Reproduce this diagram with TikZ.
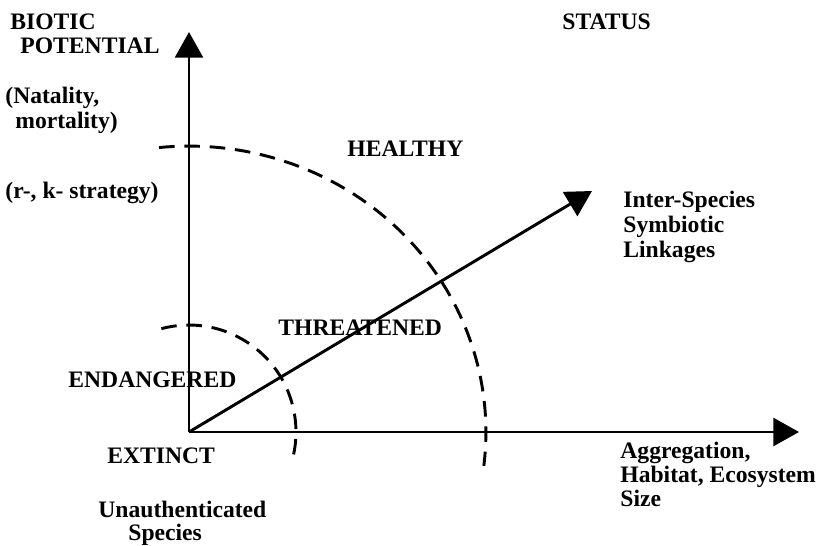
\documentclass[tikz,border=0pt]{standalone}
\usepackage{fontspec}
\setmainfont{Liberation Serif}
\usetikzlibrary{arrows.meta}

\tikzset{
    lbl/.style={anchor=base west, inner sep=0pt, font=\bfseries\fontsize{12.1}{13}\selectfont},
    axis/.style={line width=1.5pt, -{Triangle[length=0.46cm, width=0.5cm]}},
    zone/.style={line width=1.5pt, dash pattern=on 8pt off 5pt}
}

\begin{document}
\begin{tikzpicture}[x=0.018cm, y=-0.018cm]
        \useasboundingbox (0,0) rectangle (818,545);

        \coordinate (O) at (189,432);
        \coordinate (Y) at (189,32);
        \coordinate (X) at (799,432);
        \coordinate (L) at (592,191);

        \draw[axis] (O) -- (Y);
        \draw[axis] (O) -- (X);
        \draw[axis] (O) -- (L);

        \draw[zone] ([shift={(105:1.926cm)}]O) arc[start angle=105, end angle=-15, radius=1.926cm];
        \draw[zone] ([shift={(95.8:5.346cm and 5.148cm)}]O) arc[start angle=95.8, end angle=-6.8, x radius=5.346cm, y radius=5.148cm];

        \node[lbl] (biotic) at (10,29) {BIOTIC};
        \node[lbl] (potential) at (20,53) {POTENTIAL};
        \node[lbl] (natality) at (5,103) {(Natality,};
        \node[lbl] (mortality) at (15,128) {mortality)};
        \node[lbl] (strategy) at (5,198) {(r-, k- strategy)};
        \node[lbl] (status) at (562,29) {STATUS};
        \node[lbl] (healthy) at (347,156) {HEALTHY};
        \node[lbl] (inter) at (623,207) {Inter-Species};
        \node[lbl] (symb) at (623,232) {Symbiotic};
        \node[lbl] (link) at (623,257) {Linkages};
        \node[lbl] (threat) at (278,335) {THREATENED};
        \node[lbl] (endang) at (68,387) {ENDANGERED};
        \node[lbl] (extinct) at (107,463) {EXTINCT};
        \node[lbl] (aggr) at (620,458) {Aggregation,};
        \node[lbl] (habitat) at (620,482) {Habitat, Ecosystem};
        \node[lbl] (size) at (620,506) {Size};
        \node[lbl] (unauth) at (98,517) {Unauthenticated};
        \node[lbl] (species) at (128,540) {Species};

    \end{tikzpicture}
\end{document}
